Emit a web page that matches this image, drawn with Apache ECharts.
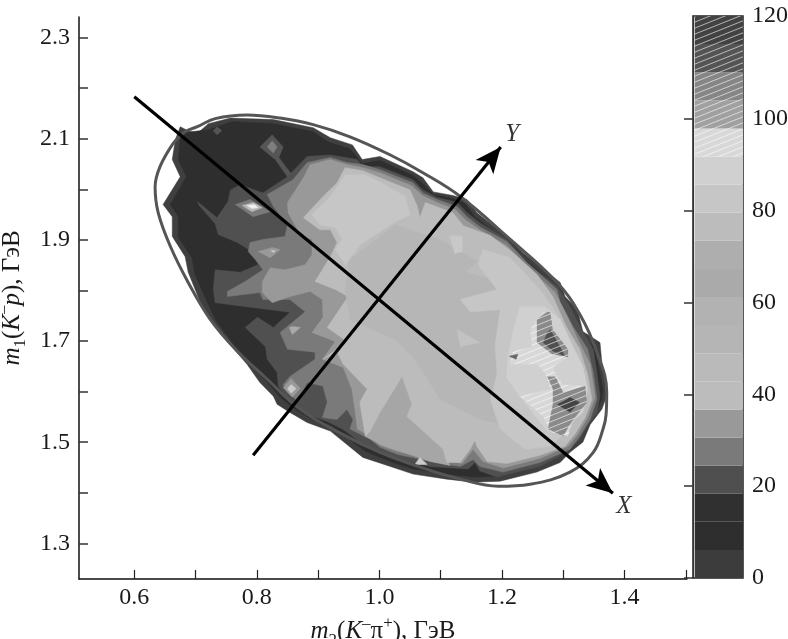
<!DOCTYPE html>
<html><head><meta charset="utf-8">
<style>html,body{margin:0;padding:0;background:#fff}#c{width:788px;height:639px}</style>
<script src="https://cdn.jsdelivr.net/npm/echarts@6/dist/echarts.min.js"></script>
</head><body><div id="c"></div>
<script>
// axis ticks
const xTickValues=[0.6,0.7,0.8,0.9,1.0,1.1,1.2,1.3,1.4,1.5];
const xLabelValues=[0.6,0.8,1.0,1.2,1.4];
const yTickValues=[1.3,1.4,1.5,1.6,1.7,1.8,1.9,2.0,2.1,2.2,2.3];
const yLabelValues=[1.3,1.5,1.7,1.9,2.1,2.3];
const barTickValues=[0,20,40,60,80,100];
const barLabelValues=[0,20,40,60,80,100,122.4];
const barLabelTexts=['0','20','40','60','80','100','120'];
// colour scale: one grey per band, bottom to top
const bandStep=6.12;
const bandGreys=['#3c3c3c','#2e2e2e','#303030','#4f4f4f','#7a7a7a','#999999','#bcbcbc','#bababa','#b5b5b5','#b2b2b2','#aaaaaa','#aeaeae','#bcbcbc','#c6c6c6','#d0d0d0','#d8d8d8','#a0a0a0','#868686','#545454','#424242'];
const bandHatched=[0,0,0,0,0,0,0,0,0,0,0,0,0,0,0,1,1,1,1,1];
// boundary ellipse [m2,m1]
const boundary=[[.664,2.092],[.683,2.114],[.703,2.124],[.732,2.140],[.784,2.147],[.838,2.141],[.892,2.128],[.952,2.104],[1.018,2.068],[1.071,2.033],[1.132,1.986],[1.208,1.907],[1.290,1.816],[1.327,1.753],[1.355,1.678],[1.371,1.599],[1.370,1.555],[1.365,1.526],[1.349,1.480],[1.311,1.441],[1.246,1.417],[1.194,1.413],[1.132,1.427],[1.066,1.451],[1.001,1.480],[.936,1.518],[.871,1.565],[.814,1.628],[.765,1.684],[.724,1.743],[.688,1.816],[.659,1.887],[.639,1.954],[.634,2.005],[.642,2.045],[.664,2.092]];
// contour outlines [m2,m1]
const contour0=[[.675,2.124],[.691,2.114],[.704,2.112],[.721,2.130],[.757,2.141],[.827,2.138],[.892,2.122],[.920,2.102],[.956,2.088],[.972,2.059],[1.001,2.065],[1.055,2.035],[1.071,2.023],[1.088,1.995],[1.120,1.988],[1.143,1.980],[1.159,1.954],[1.208,1.907],[1.234,1.875],[1.274,1.836],[1.295,1.816],[1.303,1.788],[1.323,1.763],[1.332,1.719],[1.360,1.697],[1.363,1.658],[1.371,1.611],[1.371,1.591],[1.363,1.565],[1.344,1.535],[1.332,1.500],[1.311,1.480],[1.295,1.460],[1.257,1.441],[1.197,1.423],[1.153,1.421],[1.110,1.427],[1.055,1.437],[1.018,1.452],[.973,1.470],[.920,1.522],[.882,1.539],[.854,1.559],[.833,1.575],[.827,1.591],[.805,1.618],[.784,1.654],[.745,1.709],[.724,1.743],[.708,1.776],[.688,1.836],[.683,1.867],[.662,1.907],[.662,1.946],[.647,1.970],[.675,2.025],[.662,2.059],[.667,2.098]];
const contour1=[[.678,2.112],[.721,2.118],[.760,2.134],[.827,2.130],[.892,2.114],[.916,2.094],[.952,2.080],[.972,2.051],[1.001,2.057],[1.055,2.027],[1.071,2.011],[1.088,1.990],[1.120,1.982],[1.140,1.972],[1.156,1.946],[1.205,1.899],[1.231,1.867],[1.270,1.828],[1.288,1.806],[1.298,1.780],[1.314,1.751],[1.324,1.711],[1.350,1.689],[1.357,1.652],[1.365,1.605],[1.363,1.585],[1.355,1.565],[1.336,1.535],[1.324,1.506],[1.305,1.486],[1.287,1.468],[1.252,1.449],[1.197,1.433],[1.153,1.431],[1.110,1.437],[1.055,1.447],[1.018,1.462],[.977,1.482],[.923,1.532],[.885,1.549],[.858,1.569],[.838,1.589],[.822,1.612],[.797,1.644],[.760,1.697],[.734,1.739],[.721,1.772],[.699,1.832],[.694,1.865],[.672,1.905],[.672,1.946],[.659,1.970],[.685,2.025],[.672,2.059],[.675,2.098]];
const contour2=[[.882,2.065],[.920,2.068],[.964,2.059],[.973,2.045],[1.001,2.045],[1.055,2.019],[1.071,1.999],[1.094,1.984],[1.127,1.974],[1.143,1.954],[1.164,1.934],[1.208,1.901],[1.241,1.855],[1.290,1.808],[1.311,1.768],[1.327,1.729],[1.349,1.684],[1.355,1.638],[1.360,1.591],[1.355,1.559],[1.339,1.532],[1.327,1.506],[1.306,1.480],[1.262,1.452],[1.192,1.431],[1.164,1.443],[1.156,1.460],[1.145,1.447],[1.083,1.452],[1.029,1.466],[1.001,1.482],[.973,1.496],[.941,1.525],[.915,1.541],[.882,1.555],[.854,1.579],[.835,1.611],[.833,1.638],[.817,1.664],[.814,1.689],[.781,1.727],[.801,1.747],[.827,1.727],[.854,1.757],[.732,1.776],[.729,1.802],[.732,1.841],[.773,1.836],[.802,1.851],[.792,1.877],[.768,1.895],[.737,1.911],[.732,1.932],[.706,1.968],[.703,1.976],[.735,1.944],[.753,1.976],[.757,1.999],[.773,2.009],[.810,1.993],[.850,2.025]];
const contour3=[[.882,2.053],[.920,2.063],[.947,2.053],[.973,2.049],[1.001,2.039],[1.055,2.013],[1.071,1.993],[1.094,1.980],[1.127,1.966],[1.143,1.946],[1.164,1.926],[1.208,1.897],[1.241,1.855],[1.290,1.802],[1.295,1.776],[1.316,1.729],[1.340,1.684],[1.349,1.638],[1.355,1.585],[1.344,1.545],[1.327,1.512],[1.311,1.486],[1.262,1.460],[1.202,1.441],[1.164,1.452],[1.153,1.466],[1.132,1.452],[1.083,1.462],[1.029,1.476],[1.001,1.490],[.985,1.506],[.952,1.526],[.957,1.545],[.947,1.565],[.931,1.545],[.907,1.549],[.915,1.579],[.908,1.611],[.882,1.618],[.867,1.581],[.850,1.599],[.843,1.614],[.854,1.630],[.895,1.664],[.895,1.678],[.850,1.684],[.838,1.717],[.879,1.758],[.854,1.782],[.810,1.782],[.805,1.796],[.752,1.788],[.752,1.798],[.781,1.818],[.810,1.841],[.802,1.855],[.786,1.877],[.789,1.895],[.810,1.901],[.846,1.907],[.850,1.930],[.827,1.966],[.817,1.990],[.859,2.019]];
const contour4=[[.887,2.049],[.920,2.059],[.947,2.049],[.973,2.043],[1.001,2.033],[1.053,2.007],[1.070,1.988],[1.094,1.974],[1.124,1.960],[1.140,1.940],[1.164,1.920],[1.208,1.889],[1.238,1.851],[1.287,1.796],[1.305,1.753],[1.324,1.703],[1.344,1.654],[1.352,1.589],[1.340,1.549],[1.324,1.516],[1.308,1.492],[1.262,1.468],[1.202,1.449],[1.169,1.462],[1.153,1.486],[1.135,1.458],[1.083,1.468],[1.029,1.482],[1.001,1.494],[.985,1.512],[.964,1.526],[.960,1.565],[.955,1.605],[.941,1.648],[.907,1.664],[.928,1.699],[.890,1.717],[.908,1.747],[.907,1.782],[.887,1.798],[.854,1.788],[.825,1.776],[.809,1.796],[.809,1.818],[.822,1.845],[.846,1.841],[.879,1.851],[.890,1.871],[.890,1.901],[.871,1.911],[.851,1.954],[.850,1.974],[.876,2.023]];
const lowerWedge=[[.977,1.512],[1.001,1.559],[1.037,1.630],[1.053,1.575],[1.045,1.551],[1.104,1.486],[1.115,1.454],[1.083,1.462],[1.034,1.482],[1.001,1.496]];
const contour5=[[.944,2.043],[.973,2.037],[1.001,2.023],[1.050,1.999],[1.062,1.966],[1.066,1.944],[1.075,1.974],[1.120,1.954],[1.137,1.928],[1.181,1.909],[1.218,1.875],[1.257,1.832],[1.283,1.788],[1.305,1.729],[1.327,1.684],[1.340,1.634],[1.347,1.585],[1.336,1.549],[1.319,1.516],[1.303,1.492],[1.262,1.474],[1.208,1.458],[1.176,1.462],[1.159,1.492],[1.156,1.504],[1.148,1.486],[1.132,1.460],[1.110,1.460],[1.104,1.486],[1.045,1.551],[1.053,1.575],[1.037,1.630],[1.001,1.559],[.985,1.522],[.977,1.512],[.968,1.579],[.980,1.605],[.941,1.654],[.931,1.678],[.908,1.664],[.947,1.699],[.915,1.727],[.949,1.788],[.928,1.802],[.895,1.818],[.920,1.867],[.931,1.895],[.920,1.920],[.903,1.920],[.876,1.944],[.908,1.986],[.931,2.013]];
const centreLow=[[.952,1.861],[1.026,1.930],[1.099,1.901],[1.161,1.857],[1.140,1.837],[1.194,1.818],[1.205,1.782],[1.197,1.693],[1.213,1.595],[1.246,1.526],[1.164,1.545],[1.099,1.585],[1.058,1.664],[1.026,1.703],[.952,1.743],[.944,1.802]];
const upperLobe=[[.944,2.029],[.977,2.029],[1.009,2.009],[1.042,1.986],[1.050,1.950],[1.026,1.936],[.969,1.891],[.944,1.851],[.928,1.881],[.939,1.901],[.928,1.924],[.903,1.930],[.890,1.950],[.920,1.986]];
const rightLobe=[[1.169,1.881],[1.213,1.865],[1.262,1.802],[1.290,1.753],[1.311,1.693],[1.324,1.634],[1.331,1.575],[1.311,1.526],[1.279,1.492],[1.238,1.486],[1.197,1.526],[1.181,1.585],[1.192,1.634],[1.189,1.693],[1.197,1.762],[1.148,1.758],[1.132,1.782],[1.192,1.802],[1.161,1.851]];
const rightInner=[[1.270,1.768],[1.229,1.768],[1.218,1.717],[1.210,1.670],[1.208,1.628],[1.229,1.591],[1.274,1.522],[1.323,1.549],[1.332,1.559],[1.340,1.605],[1.332,1.650],[1.316,1.689],[1.295,1.743]];
const peakZone=[[1.267,1.758],[1.257,1.743],[1.246,1.723],[1.249,1.689],[1.218,1.680],[1.213,1.654],[1.257,1.654],[1.270,1.638],[1.279,1.605],[1.229,1.591],[1.267,1.551],[1.279,1.520],[1.308,1.512],[1.314,1.541],[1.339,1.579],[1.336,1.611],[1.300,1.614],[1.290,1.630],[1.283,1.648],[1.308,1.668],[1.308,1.684],[1.283,1.723],[1.279,1.757]];
const peakA=[[1.274,1.758],[1.257,1.743],[1.257,1.697],[1.282,1.674],[1.308,1.668],[1.308,1.684],[1.283,1.723],[1.279,1.757]];
const peakACore=[[1.274,1.717],[1.267,1.697],[1.283,1.680],[1.303,1.670],[1.295,1.689],[1.279,1.723]];
const peakB=[[1.274,1.630],[1.283,1.605],[1.283,1.575],[1.275,1.526],[1.300,1.512],[1.314,1.541],[1.339,1.579],[1.336,1.611],[1.300,1.599],[1.287,1.630]];
const peakBCore=[[1.290,1.575],[1.311,1.559],[1.327,1.579],[1.311,1.589],[1.300,1.581]];
// small isolated islands
const spot1=[[.825,2.108],[.843,2.084],[.836,2.063],[.856,2.031],[.850,2.025],[.830,2.059],[.805,2.084]];
const spot1Core=[[.825,2.096],[.833,2.084],[.827,2.072],[.817,2.084]];
const spot2=[[.735,2.124],[.743,2.116],[.735,2.108],[.729,2.116]];
const spot3=[[.765,1.970],[.789,1.980],[.822,1.956],[.794,1.946]];
const spot3Mid=[[.776,1.968],[.794,1.974],[.809,1.964],[.792,1.956]];
const spot3Core=[[.784,1.968],[.796,1.970],[.802,1.964],[.792,1.962]];
const spot4=[[.802,1.877],[.825,1.885],[.838,1.881],[.822,1.865]];
const spot4Core=[[.823,1.879],[.830,1.879],[.827,1.875]];
const spot5=[[.856,1.626],[.871,1.606],[.858,1.589],[.843,1.608]];
const spot5Core=[[.856,1.614],[.864,1.606],[.856,1.597],[.850,1.606]];
const spot6=[[.859,1.729],[.871,1.727],[.858,1.713],[.853,1.727]];
const spot7=[[1.058,1.456],[1.066,1.470],[1.078,1.456]];
const spot8=[[1.115,1.908],[1.135,1.908],[1.135,1.877],[1.123,1.873]];
const spot9=[[1.127,1.723],[1.164,1.697],[1.132,1.689]];
const spot10=[[1.212,1.670],[1.226,1.674],[1.223,1.664]];
// X and Y lines
const lineX=[[0.600,2.183],[1.381,1.399]];
const lineY=[[0.794,1.474],[1.198,2.084]];
const axisMarks=[['X',1.399,1.373],['Y',1.2166,2.108]];

function hatch(base){
  const c=document.createElement('canvas');c.width=15;c.height=6;
  const g=c.getContext('2d');g.fillStyle=base;g.fillRect(0,0,15,6);
  g.strokeStyle='rgba(255,255,255,.6)';g.lineWidth=1;
  g.beginPath();
  for(const o of [-6,0,6,12]){g.moveTo(0,o+6);g.lineTo(15,o);}
  g.stroke();
  return {image:c,repeat:'repeat'};
}
const layers=[
 [contour0,'#3f3f3f'],[contour1,'#2e2e2e'],[contour2,'#505050'],[contour3,'#7a7a7a'],[contour4,'#999999'],
 [lowerWedge,'#a6a6a6'],[contour5,'#bcbcbc'],[centreLow,'#b6b6b6'],[upperLobe,'#c6c6c6'],
 [rightLobe,'#c6c6c6'],[rightInner,'#d0d0d0'],[peakZone,'#d8d8d8',1],[peakA,'#8a8a8a',1],[peakACore,'#505050',1],[peakB,'#8a8a8a',1],[peakBCore,'#444444',1],
 [spot1,'#555555'],[spot1Core,'#7f7f7f'],[spot2,'#555555'],[spot3,'#7a7a7a'],[spot3Mid,'#b8b8b8'],[spot3Core,'#eeeeee'],
 [spot4,'#999999'],[spot4Core,'#cccccc'],[spot5,'#999999'],[spot5Core,'#cccccc'],[spot6,'#aaaaaa'],[spot7,'#cccccc'],[spot8,'#c8c8c8'],[spot9,'#c2c2c2'],[spot10,'#666666']
];
const serif='"Liberation Serif","Times New Roman",serif';
const fs=24, ink='#1a1a1a';
const sty={
 i:{fontFamily:serif,fontStyle:'italic',fontSize:25,color:ink,lineHeight:34},
 r:{fontFamily:serif,fontSize:25,color:ink,lineHeight:34},
 sub:{fontFamily:serif,fontSize:17,color:ink,lineHeight:34,verticalAlign:'bottom'},
 sup:{fontFamily:serif,fontSize:17,color:ink,lineHeight:34,verticalAlign:'top'}
};
const chart=echarts.init(document.getElementById('c'),null,{renderer:'canvas'});
chart.setOption({
 animation:false,backgroundColor:'#fff',
 grid:[
  {left:79,top:17,width:608,height:562,outerBoundsMode:'none',containLabel:false},
  {left:693,top:16,width:50,height:562,show:true,borderColor:'#222',borderWidth:1.5,backgroundColor:'#fff',outerBoundsMode:'none',containLabel:false}
 ],
 xAxis:[
  {gridIndex:0,type:'value',min:0.5098,max:1.502,
   axisLine:{lineStyle:{color:'#111',width:1.5},onZero:false},
   splitLine:{show:false},
   axisTick:{inside:true,length:9,customValues:xTickValues,lineStyle:{color:'#222',width:1.2}},
   axisLabel:{customValues:xLabelValues,formatter:v=>v.toFixed(1),fontFamily:serif,fontSize:fs,color:ink,margin:7},
   name:'{i|m}{sub|2}{r|(}{i|K}{sup|–}{r|π}{sup|+}{r|), ГэВ}',nameLocation:'middle',nameGap:22,nameTextStyle:{rich:sty}},
  {gridIndex:1,type:'value',min:0,max:1,show:false}
 ],
 yAxis:[
  {gridIndex:0,type:'value',min:1.2295,max:2.3409,
   axisLine:{lineStyle:{color:'#111',width:1.5},onZero:false},
   splitLine:{show:false},
   axisTick:{inside:true,length:9,customValues:yTickValues,lineStyle:{color:'#333',width:1.5}},
   axisLabel:{customValues:yLabelValues,formatter:v=>v.toFixed(1),fontFamily:serif,fontSize:fs,color:ink,margin:9},
   name:'{i|m}{sub|1}{r|(}{i|K}{sup|–}{i|p}{r|), ГэВ}',nameLocation:'middle',nameRotate:90,nameGap:33,nameTextStyle:{rich:sty}},
  {gridIndex:1,type:'value',min:0,max:122.4,position:'right',
   axisLine:{show:true,lineStyle:{color:'#333',width:1.2}},
   splitLine:{show:false},
   axisTick:{inside:true,length:9,customValues:barTickValues,lineStyle:{color:'#333',width:1.5}},
   axisLabel:{customValues:barLabelValues,formatter:v=>barLabelTexts[barLabelValues.indexOf(v)],fontFamily:serif,fontSize:fs,color:ink,margin:9}}
 ],
 series:[
  {type:'custom',xAxisIndex:0,yAxisIndex:0,silent:true,clip:false,z:2,
   data:layers.map((l,i)=>[l[0][0][0],l[0][0][1],i]),encode:{x:0,y:1},
   renderItem(p,api){
    const l=layers[api.value(2)];
    return {type:'polygon',shape:{points:l[0].map(q=>api.coord(q))},
      style:{fill:l[2]?hatch(l[1]):l[1],stroke:l[2]?null:l[1],lineWidth:l[2]?0:0.5}};
   }},
  {type:'line',xAxisIndex:0,yAxisIndex:0,data:boundary,smooth:0.4,showSymbol:false,silent:true,z:3,
   lineStyle:{color:'#555',width:3}},
  {type:'line',xAxisIndex:0,yAxisIndex:0,data:lineX.concat(lineY),showSymbol:false,silent:true,z:4,
   lineStyle:{opacity:0},
   markLine:{silent:true,animation:false,symbol:['none','arrow'],symbolSize:[17,26],label:{show:false},
    lineStyle:{color:'#000',width:3.2,type:'solid'},
    data:[[{coord:lineX[0]},{coord:lineX[1]}],[{coord:lineY[0]},{coord:lineY[1]}]]}},
  {type:'scatter',xAxisIndex:0,yAxisIndex:0,symbolSize:1,silent:true,z:5,itemStyle:{color:'transparent'},
   data:axisMarks.map(m=>({name:m[0],value:[m[1],m[2]]})),
   label:{show:true,position:'inside',formatter:'{b}',fontFamily:serif,fontStyle:'italic',fontSize:25,color:'#000'}},
  {type:'custom',xAxisIndex:1,yAxisIndex:1,silent:true,clip:false,z:2,
   data:bandGreys.map((g,i)=>[i*bandStep,(i+1)*bandStep,i]),encode:{y:[0,1]},
   renderItem(p,api){
    const i=api.value(2),a=api.coord([0.035,api.value(0)]),b=api.coord([1,api.value(1)]);
    return {type:'rect',shape:{x:a[0],y:b[1],width:b[0]-a[0],height:a[1]-b[1]},
      style:{fill:bandHatched[i]?hatch(bandGreys[i]):bandGreys[i]}};
   }}
 ]
});
</script></body></html>
